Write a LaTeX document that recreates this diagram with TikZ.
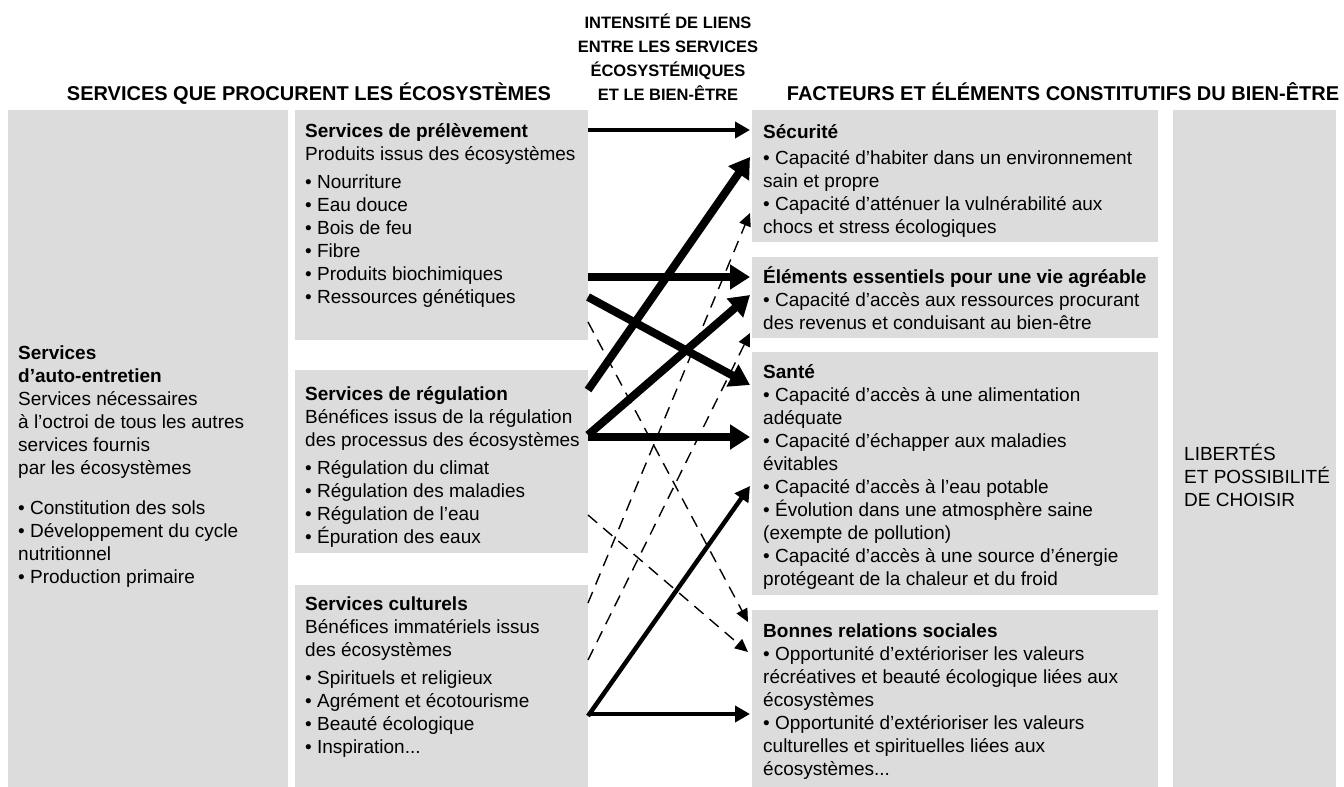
\documentclass[tikz,border=0pt]{standalone}
\usepackage{fontspec}
\setmainfont{Liberation Sans}
\usetikzlibrary{arrows.meta}
\definecolor{boxgray}{RGB}{220,220,220}
\begin{document}
\begin{tikzpicture}[x=1pt,y=-1pt,
  box/.style={fill=boxgray, draw=none, anchor=north west, inner sep=0pt, outer sep=0pt},
  txt/.style={anchor=base west, align=left, inner sep=0pt, font=\fontsize{19}{23}\selectfont},
  hdr/.style={font=\fontsize{20}{24}\selectfont\bfseries, inner sep=0pt, anchor=base},
  mhdr/.style={font=\fontsize{16.5}{24}\selectfont\bfseries, inner sep=0pt, anchor=base, align=center},
  thickarr/.style={line width=8pt, -{Triangle[length=20pt,width=24pt]}},
  medarr/.style={line width=4.5pt, -{Triangle[length=15pt,width=16pt]}},
  dasharr/.style={line width=1.4pt, dash pattern=on 12pt off 8pt, -{Triangle[length=13pt,width=12pt]}},
]
\useasboundingbox (0,0) rectangle (1344,787);
% boxes
\node[box, minimum width=280pt, minimum height=677pt] (sae) at (8,110) {};
\node[box, minimum width=293pt, minimum height=230pt] (prel) at (295,110) {};
\node[box, minimum width=293pt, minimum height=183pt] (regu) at (295,370) {};
\node[box, minimum width=293pt, minimum height=202pt] (cult) at (295,585) {};
\node[box, minimum width=406pt, minimum height=132pt] (secu) at (752,110) {};
\node[box, minimum width=406pt, minimum height=81pt] (elem) at (752,257) {};
\node[box, minimum width=406pt, minimum height=243pt] (sante) at (752,352) {};
\node[box, minimum width=406pt, minimum height=177pt] (bonnes) at (752,610) {};
\node[box, minimum width=163pt, minimum height=677pt] (lib) at (1173,110) {};
% headers
\node[hdr] (h1) at (309,100) {SERVICES QUE PROCURENT LES ÉCOSYSTÈMES};
\node[hdr] (h3) at (1063,100) {FACTEURS ET ÉLÉMENTS CONSTITUTIFS DU BIEN-ÊTRE};
\node[mhdr] (h2) at (668,100) {INTENSITÉ DE LIENS\\ENTRE LES SERVICES\\ÉCOSYSTÉMIQUES\\ET LE BIEN-ÊTRE};
% texts (base anchor = last line)
\node[txt] (tsae) at (18,583) {\textbf{Services}\\\textbf{d’auto-entretien}\\Services nécessaires\\à l’octroi de tous les autres\\services fournis\\par les écosystèmes\\[17pt]• Constitution des sols\\• Développement du cycle\\nutritionnel\\• Production primaire};
\node[txt] (tprel) at (305,303) {\textbf{Services de prélèvement}\\Produits issus des écosystèmes\\[5pt]• Nourriture\\• Eau douce\\• Bois de feu\\• Fibre\\• Produits biochimiques\\• Ressources génétiques};
\node[txt] (tregu) at (305,543) {\textbf{Services de régulation}\\Bénéfices issus de la régulation\\des processus des écosystèmes\\[5pt]• Régulation du climat\\• Régulation des maladies\\• Régulation de l’eau\\• Épuration des eaux};
\node[txt] (tcult) at (305,753) {\textbf{Services culturels}\\Bénéfices immatériels issus\\des écosystèmes\\[5pt]• Spirituels et religieux\\• Agrément et écotourisme\\• Beauté écologique\\• Inspiration...};
\node[txt] (tsecu) at (763,233) {\textbf{Sécurité}\\[3pt]• Capacité d’habiter dans un environnement\\sain et propre\\• Capacité d’atténuer la vulnérabilité aux\\chocs et stress écologiques};
\node[txt] (telem) at (763,329) {\textbf{Éléments essentiels pour une vie agréable}\\• Capacité d’accès aux ressources procurant\\des revenus et conduisant au bien-être};
\node[txt] (tsante) at (763,585) {\textbf{Santé}\\• Capacité d’accès à une alimentation\\adéquate\\• Capacité d’échapper aux maladies\\évitables\\• Capacité d’accès à l’eau potable\\• Évolution dans une atmosphère saine\\(exempte de pollution)\\• Capacité d’accès à une source d’énergie\\protégeant de la chaleur et du froid};
\node[txt] (tbonnes) at (763,775) {\textbf{Bonnes relations sociales}\\• Opportunité d’extérioriser les valeurs\\récréatives et beauté écologique liées aux\\écosystèmes\\• Opportunité d’extérioriser les valeurs\\culturelles et spirituelles liées aux\\écosystèmes...};
\node[txt] (tlib) at (1184,506) {LIBERTÉS\\ET POSSIBILITÉ\\DE CHOISIR};
% arrows
\draw[medarr] ([yshift=-20pt]prel.north east) -- ([xshift=-2pt,yshift=-20pt]secu.north west);
\draw[thickarr] ([yshift=-167pt]prel.north east) -- ([xshift=-2pt,yshift=-20pt]elem.north west);
\draw[thickarr] ([yshift=-187pt]prel.north east) -- ([xshift=-2pt,yshift=-33pt]sante.north west);
\draw[dasharr] ([yshift=-212pt]prel.north east) -- ([xshift=-4pt,yshift=-12pt]bonnes.north west);
\draw[thickarr] ([yshift=-20pt]regu.north east) -- ([xshift=-2pt,yshift=-47pt]secu.north west);
\draw[thickarr] ([yshift=-65pt]regu.north east) -- ([xshift=-2pt,yshift=-38pt]elem.north west);
\draw[thickarr] ([yshift=-67pt]regu.north east) -- ([xshift=-2pt,yshift=-85pt]sante.north west);
\draw[dasharr] ([yshift=-145pt]regu.north east) -- ([xshift=-4pt,yshift=-42pt]bonnes.north west);
\draw[dasharr] ([yshift=-18pt]cult.north east) -- ([xshift=-2pt,yshift=-103pt]secu.north west);
\draw[dasharr] ([yshift=-75pt]cult.north east) -- ([xshift=-2pt,yshift=-76pt]elem.north west);
\draw[medarr] ([yshift=-131pt]cult.north east) -- ([xshift=-2pt,yshift=-134pt]sante.north west);
\draw[medarr] ([yshift=-129pt]cult.north east) -- ([xshift=-2pt,yshift=-104pt]bonnes.north west);
\end{tikzpicture}
\end{document}
